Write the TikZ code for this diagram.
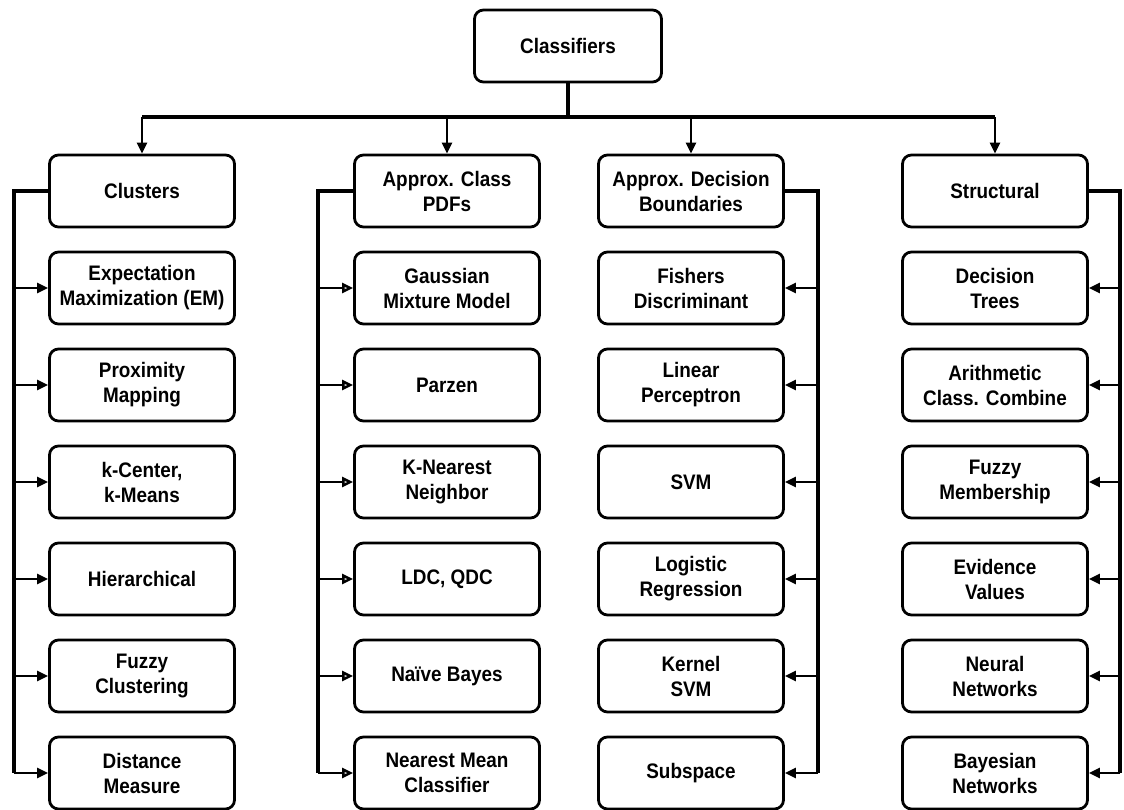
\documentclass[tikz,border=0pt]{standalone}
\usepackage{fontspec}
\setmainfont{Liberation Sans}[FakeStretch=0.9]
\usetikzlibrary{arrows.meta}

\begin{document}
\begin{tikzpicture}[x=1pt,y=-1pt,
    box/.style={draw,line width=2.8pt,rounded corners=9pt,minimum width=185pt,
      minimum height=72pt,align=center,inner sep=1pt,
      font=\fontsize{21}{25}\selectfont\bfseries},
    bus/.style={line width=3.4pt},
    tip/.style={line width=2.4pt,-{Triangle[length=11pt,width=10pt]}},
    tipopen/.style={line width=2.4pt,-{Triangle[length=11pt,width=10pt,fill=gray!45]}}]
    \useasboundingbox (0,0) rectangle (1124,809);
    \node[box,minimum width=187pt] (cls) at (568,46) {Classifiers};
    % clusters
    \node[box] (cl0) at (142,191) {Clusters};
    \node[box] (cl1) at (142,288) {Expectation\\Maximization (EM)};
    \node[box] (cl2) at (142,385) {Proximity\\Mapping};
    \node[box] (cl3) at (142,482) {k-Center,\\k-Means};
    \node[box] (cl4) at (142,579) {Hierarchical};
    \node[box] (cl5) at (142,676) {Fuzzy\\Clustering};
    \node[box] (cl6) at (142,773) {Distance\\Measure};
    % class PDFs
    \node[box] (pdf0) at (447,191) {Approx. Class\\PDFs};
    \node[box] (pdf1) at (447,288) {Gaussian\\Mixture Model};
    \node[box] (pdf2) at (447,385) {Parzen};
    \node[box] (pdf3) at (447,482) {K-Nearest\\Neighbor};
    \node[box] (pdf4) at (447,579) {LDC, QDC};
    \node[box] (pdf5) at (447,676) {Naïve Bayes};
    \node[box] (pdf6) at (447,773) {Nearest Mean\\Classifier};
    % decision boundaries
    \node[box] (db0) at (691,191) {Approx. Decision\\Boundaries};
    \node[box] (db1) at (691,288) {Fishers\\Discriminant};
    \node[box] (db2) at (691,385) {Linear\\Perceptron};
    \node[box] (db3) at (691,482) {SVM};
    \node[box] (db4) at (691,579) {Logistic\\Regression};
    \node[box] (db5) at (691,676) {Kernel\\SVM};
    \node[box] (db6) at (691,773) {Subspace};
    % structural
    \node[box] (st0) at (995,191) {Structural};
    \node[box] (st1) at (995,288) {Decision\\Trees};
    \node[box] (st2) at (995,385) {Arithmetic\\Class. Combine};
    \node[box] (st3) at (995,482) {Fuzzy\\Membership};
    \node[box] (st4) at (995,579) {Evidence\\Values};
    \node[box] (st5) at (995,676) {Neural\\Networks};
    \node[box] (st6) at (995,773) {Bayesian\\Networks};
    % top bar
    \coordinate (bar) at (568,117);
    \draw[bus] (cls) -- (bar);
    \draw[bus] (cl0 |- bar) -- (st0 |- bar);
    \foreach \n in {cl0,pdf0,db0,st0}
      \draw[tip] (\n |- bar) -- (\n);
    % side buses
    \coordinate (lb1) at (14,0);
    \coordinate (lb2) at (318,0);
    \coordinate (rb3) at (818,0);
    \coordinate (rb4) at (1120,0);
    \draw[bus] (cl0) -- (cl0 -| lb1) -- (cl6 -| lb1);
    \draw[bus] (pdf0) -- (pdf0 -| lb2) -- (pdf6 -| lb2);
    \draw[bus] (db0) -- (db0 -| rb3) -- (db6 -| rb3);
    \draw[bus] (st0) -- (st0 -| rb4) -- (st6 -| rb4);
    \foreach \i in {1,...,6} {
      \draw[tip] (cl\i -| lb1) -- (cl\i);
      \draw[tipopen] (pdf\i -| lb2) -- (pdf\i);
      \draw[tip] (db\i -| rb3) -- (db\i);
      \draw[tip] (st\i -| rb4) -- (st\i);
    }
\end{tikzpicture}
\end{document}
